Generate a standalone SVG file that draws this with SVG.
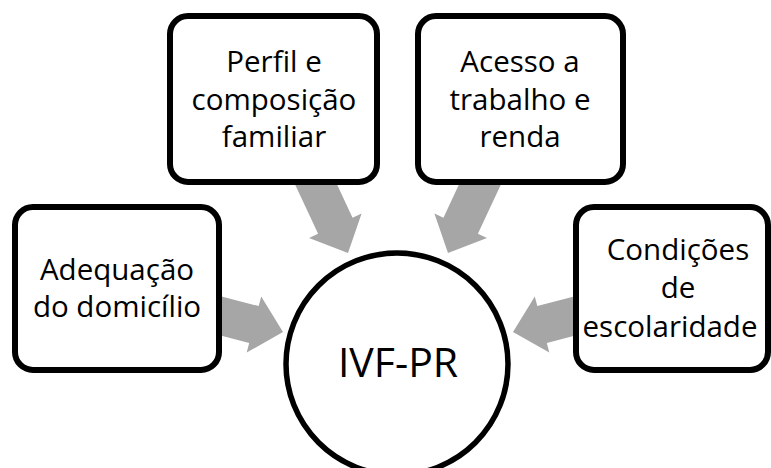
<svg xmlns="http://www.w3.org/2000/svg" width="771" height="468" viewBox="0 0 771 468">
<style>
.box{fill:#fff;stroke:#000;stroke-width:6}
.arr{fill:#a6a6a6}
.t{font-family:"Open Sans","Noto Sans",sans-serif;font-size:29.5px;fill:#000;text-anchor:middle}
.big{font-family:"Open Sans","Noto Sans",sans-serif;font-size:41px;fill:#000;text-anchor:middle}
</style>
<defs>
<polygon id="ar" points="0,0 -30,-29 -30,-19 -95,-19 -95,19 -30,19 -30,29"/>
</defs>
<rect width="771" height="468" fill="#fff"/>
<g id="connectors">
<use href="#ar" class="arr" transform="translate(348,253) rotate(65)"/>
<use href="#ar" class="arr" transform="translate(448,253) rotate(115)"/>
<use href="#ar" class="arr" transform="translate(283,332) rotate(14.5)"/>
<use href="#ar" class="arr" transform="translate(513,332) rotate(165.5)"/>
</g>
<g id="perfil">
<rect class="box" x="170" y="16" width="207" height="166" rx="18"/>
<text class="t" x="274" y="72">Perfil e</text>
<text class="t" x="274" y="110">composição</text>
<text class="t" x="274" y="147">familiar</text>
</g>
<g id="acesso">
<rect class="box" x="418" y="16" width="205" height="166" rx="18"/>
<text class="t" x="520" y="72">Acesso a</text>
<text class="t" x="520" y="110">trabalho e</text>
<text class="t" x="520" y="147">renda</text>
</g>
<g id="adequacao">
<rect class="box" x="15" y="207" width="204" height="163" rx="18"/>
<text class="t" x="117" y="280">Adequação</text>
<text class="t" x="117" y="317">do domicílio</text>
</g>
<g id="condicoes">
<rect class="box" x="576" y="207" width="192" height="163" rx="18"/>
<text class="t" x="678" y="260">Condições</text>
<text class="t" x="678" y="298">de</text>
<text class="t" x="670" y="337">escolaridade</text>
</g>
<g id="ivf">
<circle cx="397" cy="364" r="111" fill="#fff" stroke="#000" stroke-width="5.5"/>
<text class="big" x="398" y="377">IVF-PR</text>
</g>
</svg>
